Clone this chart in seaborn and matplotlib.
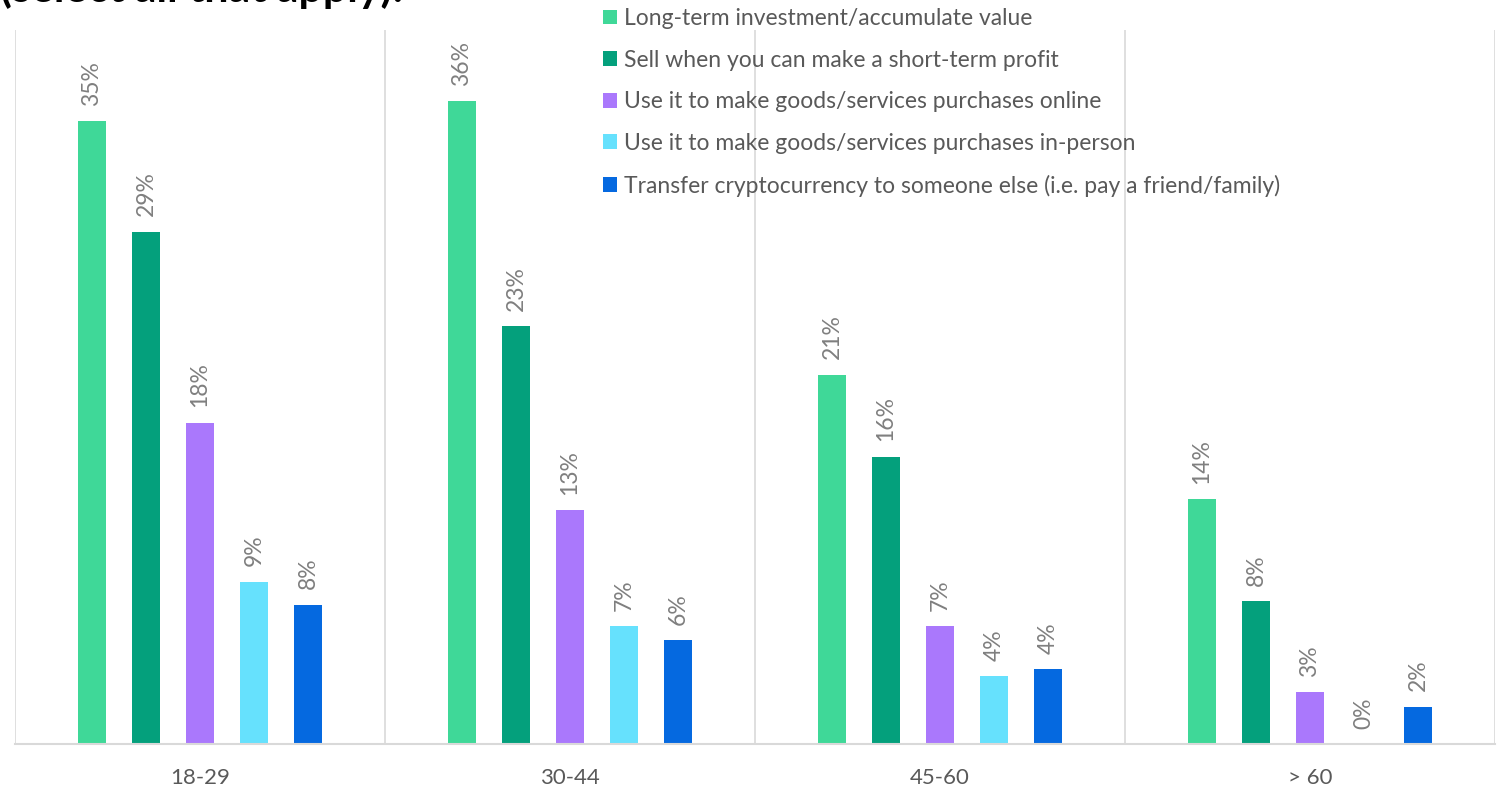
import matplotlib
matplotlib.use("Agg")
import matplotlib.pyplot as plt
import seaborn as sns
import pandas as pd
from matplotlib.patches import Patch

age_groups = ["18-29", "30-44", "45-60", "> 60"]
series_names = [
    "Long-term investment/accumulate value",
    "Sell when you can make a short-term profit",
    "Use it to make goods/services purchases online",
    "Use it to make goods/services purchases in-person",
    "Transfer cryptocurrency to someone else (i.e. pay a friend/family)",
]
long_term = [34.9, 36.0, 20.7, 13.7]
short_term = [28.7, 23.4, 16.1, 8.0]
online = [18.0, 13.1, 6.6, 2.9]
in_person = [9.1, 6.6, 3.8, 0.0]
transfer = [7.8, 5.8, 4.2, 2.1]
colors = ["#3fd898", "#04a07c", "#aa78fc", "#66e1fd", "#0569e0"]

series_values = [long_term, short_term, online, in_person, transfer]
rows = []
for name, vals in zip(series_names, series_values):
    for grp, v in zip(age_groups, vals):
        rows.append({"age": grp, "use": name, "pct": v})
df = pd.DataFrame(rows)

sns.set_theme(style="white")
plt.rcParams["font.family"] = ["Lato", "DejaVu Sans"]

W, H = 1497, 788
fig = plt.figure(figsize=(W / 100, H / 100), dpi=100)
ax = fig.add_axes([15 / W, (H - 744) / H, (1495 - 15) / W, (744 - 30) / H])

sns.barplot(data=df, x="age", y="pct", hue="use", hue_order=series_names,
            order=age_groups, palette=colors, width=0.73, gap=0.48,
            ax=ax, legend=False, saturation=1, linewidth=0)

for cont in ax.containers:
    ax.bar_label(cont, labels=[f"{b.get_height():.0f}%" for b in cont],
                 rotation=90, padding=11, color="#7f7f7f", fontsize=16.5)

ax.set_ylim(0, 40)
ax.set_xlim(-0.5, len(age_groups) - 0.5)
for xv in [i - 0.5 for i in range(len(age_groups) + 1)]:
    ax.axvline(xv, color="#d9d9d9", lw=1.2, zorder=0)
for s in ["top", "right", "left"]:
    ax.spines[s].set_visible(False)
ax.spines["bottom"].set_color("#d9d9d9")
ax.spines["bottom"].set_linewidth(1.5)
ax.set_yticks([])
ax.set_xlabel("")
ax.set_ylabel("")
ax.tick_params(axis="x", length=0, pad=17, labelsize=16, labelcolor="#595959")

handles = [Patch(facecolor=c, edgecolor="none") for c in colors]
fig.legend(handles, series_names, loc="upper left",
           bbox_to_anchor=(603 / W, 1 - 8 / H), frameon=False,
           fontsize=16.5, labelcolor="#595959", handlelength=0.62,
           handleheight=0.62, handletextpad=0.3, labelspacing=0.9,
           borderpad=0, borderaxespad=0)

fig.text(0, 1 - 2 / H, "(select all that apply):", fontsize=31,
         fontweight="bold", color="black", ha="left", va="baseline")

fig.savefig("out.png", dpi=100)
